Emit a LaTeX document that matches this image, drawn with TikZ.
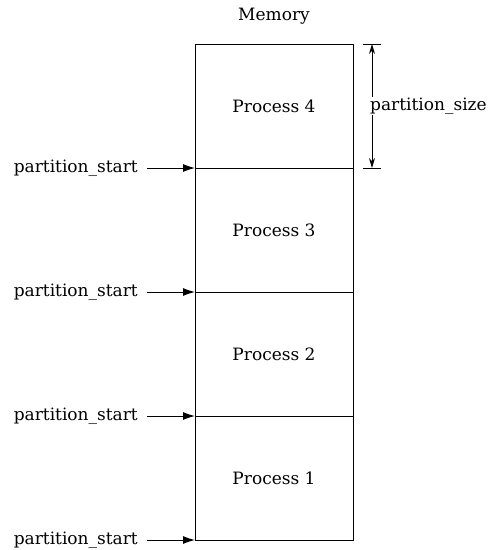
\documentclass[tikz,border=0pt]{standalone}
\usepackage{fontspec}
\setmainfont{DejaVu Serif}
\usetikzlibrary{arrows.meta}
\begin{document}
\begin{tikzpicture}[x=1pt,y=-1pt,
  lbl/.style={font=\fontsize{17}{20}\selectfont, inner sep=1pt},
  ptr/.style={-{Latex[length=12pt,width=8pt]}, line width=1pt},
  dim/.style={{Stealth[length=10pt,width=6pt]}-{Stealth[length=10pt,width=6pt]}, line width=1pt},
  part/.style={draw, line width=1pt, minimum width=158pt, minimum height=124pt, inner sep=0pt, font=\fontsize{17}{20}\selectfont}]
\useasboundingbox (0,0) rectangle (493,550);
\node[lbl] (mem) at (274,16) {Memory};
\node[part] (p4) at (274,106) {Process 4};
\node[part] (p3) at (274,230) {Process 3};
\node[part] (p2) at (274,354) {Process 2};
\node[part] (p1) at (274,478) {Process 1};
\foreach \n/\y in {a/168,b/292,c/416,d/540}{
  \node[lbl, anchor=east] (s\n) at (139,\y) {partition\_start};
  \coordinate (t\n) at (195,\y);
  \draw[ptr] (s\n.east) ++(8,0) -- (t\n);
}
\coordinate (dt) at (372,44);
\coordinate (db) at (372,168);
\draw[line width=1pt] (363,44) -- (381,44);
\draw[line width=1pt] (363,168) -- (381,168);
\draw[dim] (dt) -- (db);
\node[lbl, fill=white, anchor=west] (ps) at (369,106) {partition\_size};
\end{tikzpicture}
\end{document}
